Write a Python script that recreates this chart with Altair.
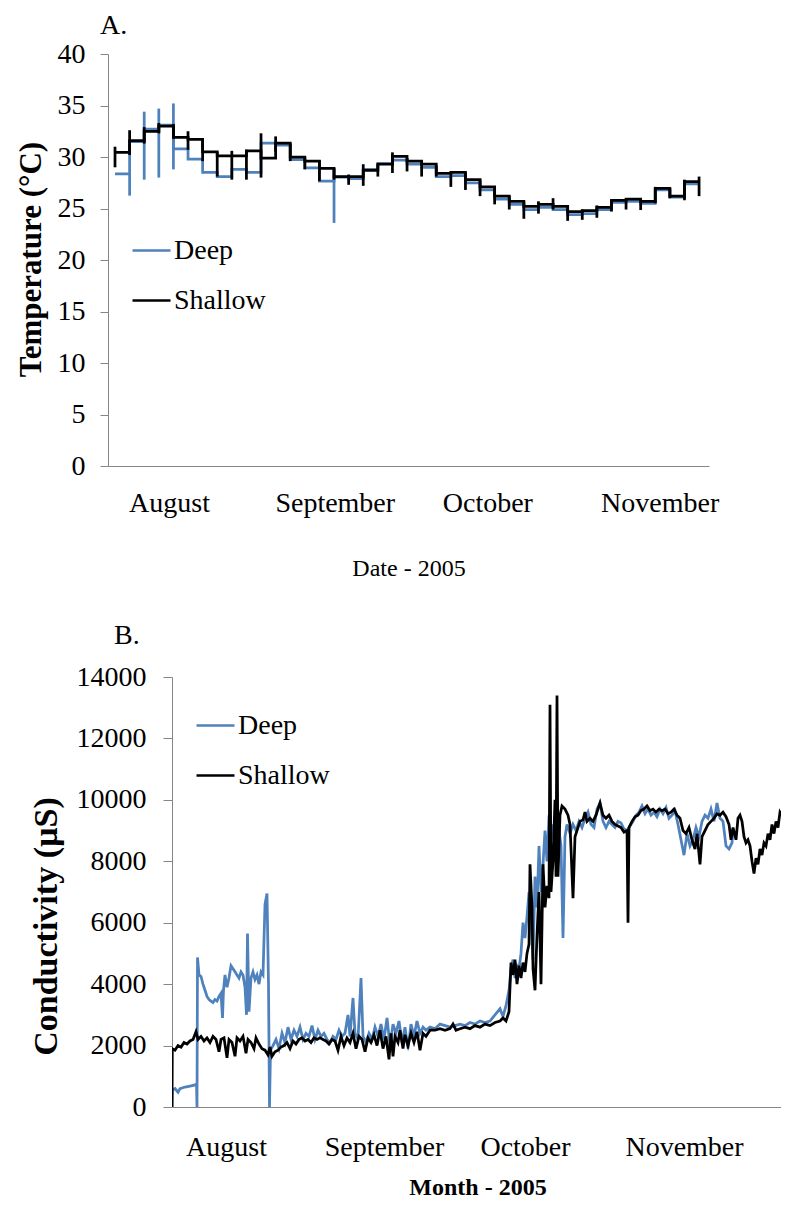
import altair as alt
import pandas as pd

FONT = "Liberation Serif"
BLUE = "#4F81BD"
GREY = "#868686"

series_names = ["Deep", "Shallow"]
series_colors = [BLUE, "#000000"]

# ---------------- Panel A : temperature ----------------
temp_bound = list(range(41))
temp_shallow = [30.45, 31.6, 32.5, 33.0, 31.9, 31.7, 30.5, 30.1, 30.1, 30.6,
                29.9, 31.35, 30.0, 29.6, 28.9, 28.1, 28.1, 28.7, 29.3, 30.05,
                29.6, 29.3, 28.4, 28.5, 27.8, 27.1, 26.2, 25.7, 25.2, 25.4,
                25.2, 24.7, 24.8, 25.1, 25.8, 25.9, 25.7, 26.95, 26.2, 27.6]
temp_deep = [28.35, 31.5, 32.7, 33.1, 30.8, 29.8, 28.5, 28.1, 28.8, 28.5,
             31.35, 31.15, 29.75, 28.95, 27.65, 28.05, 27.9, 28.8, 29.35, 29.7,
             29.3, 29.0, 28.1, 28.2, 27.5, 26.8, 25.9, 25.4, 24.9, 25.1,
             24.9, 24.4, 24.5, 24.9, 25.6, 25.7, 25.5, 26.8, 26.1, 27.4]
spike_shallow_lo = [29.0, 30.2, 31.3, 32.3, 31.8, 30.7, 29.6, 28.1, 27.8, 27.8,
                    28.0, 30.5, 29.6, 28.8, 27.65, 27.8, 27.3, 27.2, 28.1, 28.45,
                    28.6, 28.1, 28.1, 27.1, 26.8, 26.2, 25.4, 24.9, 24.0, 24.5,
                    24.9, 23.8, 23.9, 24.1, 24.7, 24.9, 24.85, 25.5, 26.0, 25.8, 26.2]
spike_shallow_hi = [31.0, 32.6, 32.9, 33.3, 33.2, 32.5, 31.8, 30.5, 30.6, 30.7,
                    32.3, 32.0, 31.35, 30.0, 29.7, 28.9, 28.3, 29.3, 29.3, 30.45,
                    29.9, 29.5, 29.2, 28.5, 28.5, 27.8, 27.1, 26.2, 25.7, 25.7,
                    26.0, 25.3, 24.9, 25.3, 25.8, 25.9, 25.8, 27.1, 26.95, 27.8, 28.1]
spike_deep_at = [1, 2, 3, 4, 15]
spike_deep_lo = [26.25, 27.8, 28.0, 28.8, 23.6]
spike_deep_hi = [28.45, 34.4, 34.7, 35.2, 28.9]
temp_ticks = [0, 5, 10, 15, 20, 25, 30, 35, 40]

month_labels = ["August", "September", "October", "November"]
month_pos_a = [3.7, 15.05, 25.5, 37.3]

# ---------------- Panel B : conductivity ----------------
cond_shallow_day = [0.0, 0.06, 0.6, 1.2, 1.8, 2.4, 3.0, 3.6, 4.2, 4.8, 5.2, 5.8, 6.4, 7.0, 7.6,
                    8.2, 8.8, 9.4, 9.8, 10.4, 11.0, 11.4, 12.0, 12.6, 13.0, 13.6, 14.2, 14.8,
                    15.2, 15.8, 16.4, 16.8, 17.4, 18.0, 18.6, 19.2, 19.6, 20.0, 20.6, 21.2,
                    21.8, 22.4, 23.0, 23.6, 24.2, 24.8, 25.4, 26.0, 26.6, 27.2, 27.8, 28.4,
                    29.0, 29.6, 30.2, 30.8, 31.4, 32.0, 32.6, 33.2, 33.8, 34.4, 35.0, 35.6,
                    36.2, 36.8, 37.4, 38.0, 38.6, 39.2, 39.8, 40.4, 41.0, 41.6, 42.2, 42.8,
                    43.4, 43.8, 44.2, 44.6, 45.2, 45.6, 46.2, 46.6, 47.2, 47.8, 48.4, 49.0,
                    49.6, 50.2, 50.8, 51.6, 52.6, 53.6, 54.6, 55.6, 56.2, 56.8, 57.6, 58.6,
                    59.6, 60.6, 61.6, 62.6, 63.6, 64.6, 65.6, 66.2, 66.8, 67.4, 67.8, 68.2,
                    68.6, 69.0, 69.4, 69.8, 70.2, 70.6, 71.0, 71.4, 71.6, 72.0, 72.2, 72.6,
                    73.0, 73.4, 73.8, 74.2, 74.6, 75.0, 75.4, 75.6, 75.8, 76.2, 76.6, 76.8,
                    77.0, 77.2, 77.6, 78.0, 78.6, 79.2, 79.6, 80.2, 80.6, 81.0, 81.6, 82.2,
                    82.6, 83.0, 83.6, 84.2, 84.8, 85.6, 86.2, 86.8, 87.4, 88.0, 88.6, 89.2,
                    89.8, 90.4, 91.0, 91.2, 91.4, 92.0, 92.6, 93.2, 93.8, 94.4, 95.0, 95.6,
                    96.2, 96.8, 97.4, 98.0, 98.6, 99.2, 99.8, 100.4, 101.0, 101.6, 102.2,
                    102.8, 103.4, 104.0, 104.6, 105.0, 105.6, 106.0, 106.6, 107.2, 107.8,
                    108.4, 109.0, 109.6, 110.2, 110.8, 111.4, 111.8, 112.2, 112.8, 113.2,
                    113.6, 114.0, 114.4, 114.8, 115.2, 115.6, 116.0, 116.4, 116.8, 117.2,
                    117.6, 118.0, 118.4, 118.8, 119.2, 119.6, 120.0, 120.4, 120.8, 121.2,
                    121.6, 122.0, 122.4, 122.8, 123.2, 123.6]
cond_shallow = [0, 1900, 1850, 2000, 1950, 2100, 2050, 2150, 2200, 2450, 2200, 2300, 2150, 2250, 2100,
                2300, 2200, 1800, 2200, 2250, 1600, 2200, 2100, 1650, 2250, 2150, 2300, 1750,
                2200, 2100, 1900, 2250, 2050, 1900, 1850, 1700, 1950, 1650, 1800, 1850,
                1950, 2000, 2100, 1900, 2150, 2050, 2200, 2250, 2150, 2200, 2100, 2250,
                2200, 2250, 2200, 2150, 2050, 2200, 2150, 1850, 2300, 2000, 2250, 2100,
                2400, 1900, 2300, 2200, 1800, 2250, 2100, 2350, 2000, 2500, 1900, 2300,
                1550, 2400, 1650, 2300, 2100, 2500, 1900, 2350, 2000, 2400, 2100, 2450,
                1850, 2400, 2300, 2500, 2500, 2550, 2500, 2550, 2700, 2500, 2550, 2600,
                2550, 2650, 2600, 2700, 2650, 2750, 2800, 2900, 2800, 3100, 4700, 4300,
                4800, 4000, 4600, 4200, 4700, 4400, 5000, 5300, 7900, 6500, 4500, 3800,
                5600, 7000, 4000, 7900, 6500, 7200, 6800, 13100, 7000, 8000, 10000, 7500,
                13400, 7500, 9500, 9800, 9700, 9500, 9200, 6800, 8800, 9000, 9300, 9350,
                9600, 9300, 9400, 9300, 9500, 9900, 9500, 9400, 9500, 9300, 9200, 9150,
                9100, 8950, 9000, 6000, 9100, 9300, 9450, 9500, 9650, 9700, 9800, 9650,
                9700, 9600, 9700, 9650, 9700, 9550, 9600, 9700, 9500, 9400, 9000,
                8900, 9100, 8700, 8400, 8900, 7900, 8800, 9000, 9200, 9300,
                9400, 9550, 9500, 9600, 9450, 9200, 8700, 9100, 8700, 9400,
                9500, 9300, 8800, 8600, 8700, 8500, 8000, 7600, 8100, 7900,
                8400, 8200, 8600, 8500, 8900, 8700, 9200, 8900, 9300, 9100,
                9600, 9500, 10000, 9800, 10100, 10000]
cond_deep_day = [0.0, 0.06, 0.6, 1.2, 1.6, 2.6, 3.6, 4.6, 4.9, 5.0, 5.1, 5.4, 5.8, 6.2, 6.6,
                 7.0, 7.4, 7.8, 8.2, 8.6, 9.0, 9.4, 9.8, 10.1, 10.3, 10.6, 11.0, 11.4, 11.8,
                 12.2, 12.6, 13.0, 13.4, 13.8, 14.2, 14.6, 14.9, 15.1, 15.4, 15.8, 16.2,
                 16.6, 17.0, 17.4, 17.8, 18.2, 18.6, 19.0, 19.3, 19.5, 19.7, 20.2, 20.8,
                 21.4, 22.0, 22.6, 23.2, 23.8, 24.4, 25.0, 25.6, 26.2, 26.8, 27.4, 28.0,
                 28.6, 29.2, 29.8, 30.4, 31.0, 31.6, 32.2, 32.8, 33.4, 34.0, 34.6, 35.2,
                 35.6, 36.2, 36.6, 37.2, 37.8, 38.2, 38.8, 39.4, 40.0, 40.6, 41.2, 41.8,
                 42.4, 43.0, 43.6, 44.2, 44.8, 45.4, 46.0, 46.6, 47.2, 47.8, 48.4, 49.0,
                 49.6, 50.2, 50.8, 51.6, 52.6, 53.6, 54.6, 55.6, 56.6, 57.6, 58.6, 59.6,
                 60.6, 61.6, 62.6, 63.6, 64.6, 65.6, 66.2, 66.8, 67.4, 67.8, 68.2, 68.6,
                 69.0, 69.4, 69.8, 70.2, 70.6, 71.0, 71.4, 71.8, 72.2, 72.6, 73.0, 73.4,
                 73.8, 74.2, 74.6, 75.0, 75.4, 75.8, 76.2, 76.6, 77.0, 77.4, 77.8, 78.2,
                 78.6, 79.0, 79.6, 80.2, 80.8, 81.4, 82.0, 82.6, 83.2, 83.8, 84.4, 85.0,
                 85.6, 86.2, 86.8, 87.4, 88.0, 88.6, 89.2, 89.8, 90.4, 91.0, 91.6, 92.2,
                 92.8, 93.4, 94.0, 94.6, 95.2, 95.8, 96.4, 97.0, 97.6, 98.2, 98.8, 99.4,
                 100.0, 100.6, 101.2, 101.8, 102.4, 103.0, 103.6, 104.2, 104.8, 105.4,
                 106.0, 106.6, 107.2, 107.8, 108.4, 109.0, 109.6, 110.2, 110.8, 111.4,
                 112.0, 112.2]
cond_deep = [0, 550, 600, 480, 600, 650, 680, 720, 750, 0, 4870, 4300, 4250, 4000, 3800,
             3600, 3500, 3450, 3400, 3500, 3450, 3600, 3700, 2900, 3800, 4300, 3900, 4200, 4600,
             4500, 4400, 4300, 4200, 4400, 4300, 3900, 3000, 5650, 3100, 4200, 4400,
             4150, 4300, 4000, 4400, 4300, 6600, 6950, 4000, 0, 1850, 2000, 2200,
             1900, 2400, 2100, 2600, 2200, 2500, 2300, 2600, 2200, 2400, 2300, 2650,
             2200, 2500, 2300, 2400, 2200, 2100, 2300, 2200, 2500, 2300, 2400, 3000,
             2300, 3550, 2400, 2200, 4200, 2300, 2100, 2400, 2200, 2600, 2300, 2700,
             2200, 2900, 2000, 2700, 2400, 2800, 2100, 2600, 1900, 2700, 2300, 2800,
             2400, 2600, 2500, 2600, 2550, 2700, 2650, 2600, 2650, 2700, 2650, 2750,
             2700, 2800, 2750, 2800, 3000, 3200, 2950, 3300, 3800, 4500, 4800, 4200,
             4600, 4500, 5000, 6000, 5500, 6200, 7000, 6000, 4800, 7500, 6500, 8500,
             7000, 7900, 9000, 8000, 9500, 8700, 9200, 8900, 9300, 9000, 8500, 5500,
             8800, 9200, 8900, 9200, 9000, 9300, 9100, 9400, 9600, 9200, 9100, 9700,
             9900, 9300, 9100, 9300, 9200, 9100, 9300, 9250, 9050, 9000, 9150, 9300,
             9500, 9600, 9800, 9550, 9700, 9500, 9600, 9450, 9700, 9550, 9750, 9400,
             9500, 9650, 9200, 8700, 8200, 8900, 8500, 8700, 9100, 8800,
             9300, 9500, 9400, 9700, 9300, 9900, 9400, 9300, 8500, 8400,
             8600, 9000]
cond_ticks = [0, 2000, 4000, 6000, 8000, 10000, 12000, 14000]
month_pos_b = [10.8, 42.4, 70.6, 102.4]

LINE_W = 2.75


def label_expr(positions, labels):
    expr = ""
    for p, lab in zip(positions, labels):
        expr += f"abs(datum.value - {p}) < 0.01 ? '{lab}' : "
    return expr + "''"


def color_enc(legend_y):
    return alt.Color(
        "series:N",
        scale=alt.Scale(domain=series_names, range=series_colors),
        legend=alt.Legend(
            orient="none", legendX=23, legendY=legend_y, title=None,
            symbolType="stroke", symbolSize=1444, symbolStrokeWidth=2.5,
            labelFont=FONT, labelFontSize=28, labelColor="black",
            rowPadding=15, labelOffset=2, padding=0, direction="vertical",
        ),
    )


# ---------- chart A ----------
def step_frame(vals, name):
    return pd.DataFrame({"step": temp_bound, "temp": vals + [vals[-1]], "series": name})


xa = alt.X("step:Q",
           scale=alt.Scale(domain=[-0.48, 40.68], nice=False, zero=False),
           axis=alt.Axis(values=month_pos_a, labelExpr=label_expr(month_pos_a, month_labels),
                         ticks=False, tickSize=0, grid=False, domainColor=GREY,
                         labelFontSize=28, labelPadding=23, labelFlush=False, labelOverlap=False,
                         title="Date - 2005", titleFontSize=24, titleFontWeight="normal",
                         titlePadding=39))
ya = alt.Y("temp:Q",
           scale=alt.Scale(domain=[0, 40], nice=False),
           axis=alt.Axis(values=temp_ticks, format="d", tickSize=8, tickColor=GREY,
                         domainColor=GREY, grid=False, labelFontSize=28, labelPadding=15,
                         title="Temperature (°C)", titleFontSize=31, titleFontWeight="bold",
                         titleX=-77, titleY=205, titleAngle=-90, titleBaseline="middle",
                         titleAlign="center"))
ca = color_enc(176)

line_deep_a = alt.Chart(step_frame(temp_deep, "Deep")).mark_line(
    interpolate="step-after", strokeWidth=LINE_W).encode(x=xa, y=ya, color=ca)
line_sh_a = alt.Chart(step_frame(temp_shallow, "Shallow")).mark_line(
    interpolate="step-after", strokeWidth=LINE_W).encode(x=xa, y=ya, color=ca)
spk_deep_a = alt.Chart(pd.DataFrame({"step": spike_deep_at, "temp": spike_deep_lo,
                                     "hi": spike_deep_hi, "series": "Deep"})).mark_rule(
    strokeWidth=LINE_W).encode(x=xa, y=ya, y2="hi:Q", color=ca)
spk_sh_a = alt.Chart(pd.DataFrame({"step": temp_bound, "temp": spike_shallow_lo,
                                   "hi": spike_shallow_hi, "series": "Shallow"})).mark_rule(
    strokeWidth=LINE_W).encode(x=xa, y=ya, y2="hi:Q", color=ca)
# invisible left edge marker that sets how far the plot sits from the page's left side
frame_a = alt.Chart(pd.DataFrame({"k": [0]})).mark_rule(opacity=0, strokeWidth=1).encode(
    x=alt.value(-98), x2=alt.value(-98), y=alt.value(0), y2=alt.value(1))

chart_a = alt.layer(frame_a, line_deep_a, spk_deep_a, line_sh_a, spk_sh_a).properties(
    width=601, height=412,
    title=alt.TitleParams("A.", anchor="start", frame="group", dx=-8, fontSize=28,
                          font=FONT, fontWeight="normal", color="black", offset=0))

# ---------- chart B ----------
xb = alt.X("day:Q",
           scale=alt.Scale(domain=[0, 122.2], nice=False, zero=False),
           axis=alt.Axis(values=month_pos_b, labelExpr=label_expr(month_pos_b, month_labels),
                         ticks=False, tickSize=0, grid=False, domainColor=GREY,
                         labelFontSize=28, labelPadding=26, labelFlush=False, labelOverlap=False,
                         title="Month - 2005", titleFontSize=24, titleFontWeight="bold",
                         titlePadding=14))
yb = alt.Y("cond:Q",
           scale=alt.Scale(domain=[0, 14000], nice=False),
           axis=alt.Axis(values=cond_ticks, format="d", tickSize=9, tickColor=GREY,
                         domainColor=GREY, grid=False, labelFontSize=28, labelPadding=17,
                         title="Conductivity (µS)", titleFontSize=34, titleFontWeight="bold",
                         titleX=-126, titleY=249, titleAngle=-90, titleBaseline="middle",
                         titleAlign="center"))
cb = color_enc(28)

line_deep_b = alt.Chart(pd.DataFrame({"day": cond_deep_day, "cond": cond_deep,
                                      "series": "Deep"})).mark_line(
    strokeWidth=LINE_W, clip=True).encode(x=xb, y=yb, color=cb)
line_sh_b = alt.Chart(pd.DataFrame({"day": cond_shallow_day, "cond": cond_shallow,
                                    "series": "Shallow"})).mark_line(
    strokeWidth=LINE_W, clip=True).encode(x=xb, y=yb, color=cb)
frame_b = alt.Chart(pd.DataFrame({"k": [0]})).mark_rule(opacity=0, strokeWidth=1).encode(
    x=alt.value(-162), x2=alt.value(-162), y=alt.value(0), y2=alt.value(1))

chart_b = alt.layer(frame_b, line_deep_b, line_sh_b).properties(
    width=611, height=430,
    title=alt.TitleParams("B.", anchor="start", frame="group", dx=-58, fontSize=28,
                          font=FONT, fontWeight="normal", color="black", offset=13))


def spacer():
    return alt.Chart(pd.DataFrame({"k": [0]})).mark_point(
        opacity=0, size=1, strokeWidth=0).encode(
        x=alt.value(0), y=alt.value(0)).properties(width=1, height=1)


row_a = alt.hconcat(spacer(), chart_a, spacing=0).resolve_scale(
    color="independent").resolve_legend(color="independent")
row_b = alt.hconcat(spacer(), chart_b, spacing=0).resolve_scale(
    color="independent").resolve_legend(color="independent")

chart = alt.vconcat(row_a, row_b, spacing=42).resolve_scale(
    color="independent", x="independent", y="independent").resolve_legend(
    color="independent").properties(
    padding={"left": 0, "top": 4, "right": -2, "bottom": 0},
    background="white").configure_view(strokeWidth=0).configure_axis(
    labelFont=FONT, titleFont=FONT, labelColor="black", titleColor="black").configure_legend(
    labelFont=FONT)

chart.save("out.html", embed_options={"renderer": "svg", "actions": False})
